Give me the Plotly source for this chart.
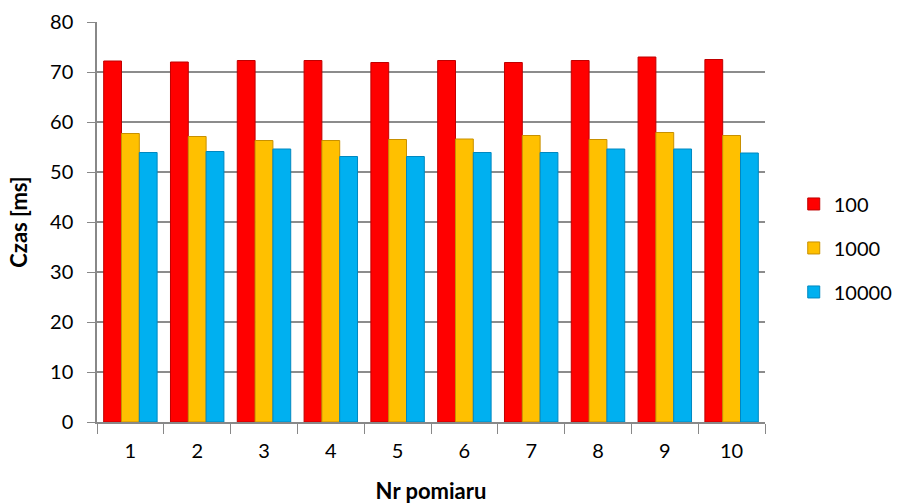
import plotly.graph_objects as go

categories = ["1", "2", "3", "4", "5", "6", "7", "8", "9", "10"]
series_names = ["100", "1000", "10000"]
values_100 = [72.2, 72.0, 72.3, 72.3, 71.9, 72.3, 71.9, 72.3, 73.0, 72.5]
values_1000 = [57.7, 57.1, 56.3, 56.3, 56.5, 56.6, 57.3, 56.5, 57.9, 57.3]
values_10000 = [53.9, 54.1, 54.6, 53.1, 53.1, 53.9, 53.9, 54.6, 54.6, 53.8]
colors = ["#FF0000", "#FFC000", "#00B0F0"]
edge_colors = ["#C00000", "#C89000", "#0088C0"]

font_family = "Lato, 'Open Sans', sans-serif"

fig = go.Figure()
for name, vals, col, ecol in zip(series_names, [values_100, values_1000, values_10000], colors, edge_colors):
    fig.add_trace(go.Bar(
        x=categories, y=vals, name=name, legendgroup=name,
        marker=dict(color=col, line=dict(color=ecol, width=1)),
    ))

fig.update_layout(
    width=903, height=504,
    margin=dict(l=97, r=138, t=22, b=82),
    paper_bgcolor="white", plot_bgcolor="white",
    barmode="group", bargap=0.2, bargroupgap=0.0,
    font=dict(family=font_family, size=20, color="#000000"),
    showlegend=True,
    legend=dict(xref="container", yref="container", x=0.879, y=0.508,
                xanchor="left", yanchor="middle",
                font=dict(size=20), tracegroupgap=15, traceorder="grouped",
                itemwidth=30),
    xaxis=dict(
        title=dict(text="<b>Nr pomiaru</b>", font=dict(size=22), standoff=24),
        automargin=False,
        showline=True, linecolor="#888888", linewidth=1.5,
        ticks="outside", ticklen=10, tickcolor="#888888", tickwidth=1,
        tickson="boundaries", ticklabelstandoff=10,
        showgrid=False,
    ),
    yaxis=dict(
        title=dict(text="<b>Czas [ms]</b>", font=dict(size=22), standoff=16),
        automargin=False,
        range=[0, 80], dtick=10,
        showline=True, linecolor="#888888", linewidth=1.5,
        ticks="outside", ticklen=8, tickcolor="#888888", tickwidth=1,
        ticklabelstandoff=10,
        showgrid=True, gridcolor="#8C8C8C", gridwidth=2,
        zeroline=False,
    ),
)

post = "document.body.style.margin='0';document.body.style.overflow='hidden';"

fig.write_html("out.html", post_script=post, config={"displayModeBar": False})
